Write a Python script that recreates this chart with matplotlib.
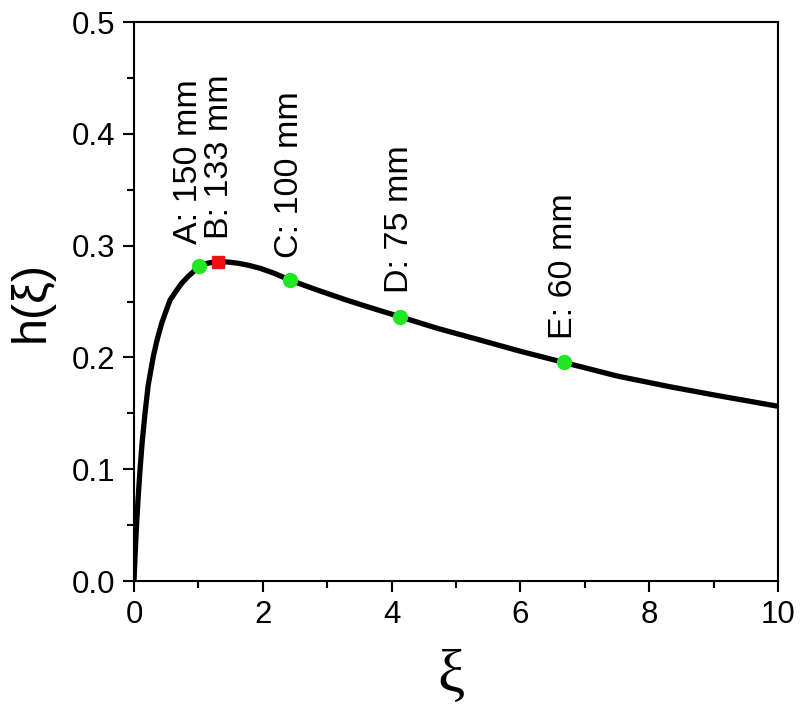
import numpy as np
import matplotlib
matplotlib.use('Agg')
import matplotlib.pyplot as plt
from matplotlib.ticker import MultipleLocator

# curve h(xi), values
xi_curve = [0.0, 0.016, 0.041, 0.065, 0.093, 0.125, 0.171, 0.22, 0.30, 0.36, 0.43, 0.50,
            0.56, 0.65, 0.74, 0.85, 0.95, 1.014, 1.10, 1.20, 1.335, 1.47, 1.62, 1.78,
            1.96, 2.18, 2.42, 2.80, 3.30, 3.70, 4.13, 4.70, 5.37, 6.00, 6.67, 7.50,
            8.32, 9.00, 9.98, 10.0]
h_curve = [0.0, 0.022, 0.052, 0.075, 0.099, 0.123, 0.150, 0.175, 0.201, 0.216, 0.2305, 0.242,
           0.2513, 0.259, 0.2663, 0.273, 0.278, 0.2818, 0.2836, 0.2849, 0.2856, 0.2853, 0.2842, 0.2824,
           0.2797, 0.2752, 0.2692, 0.2612, 0.2513, 0.2440, 0.2364, 0.2262, 0.2156, 0.2055, 0.1956, 0.1834,
           0.1738, 0.1665, 0.1565, 0.1563]

# marked points
point_names = ['A: 150 mm', 'B: 133 mm', 'C: 100 mm', 'D: 75 mm', 'E: 60 mm']
point_xi = [1.014, 1.309, 2.42, 4.13, 6.67]
point_h = [0.2818, 0.2852, 0.2692, 0.2364, 0.1956]

green = '#22e622'
red = '#ee1111'

plt.rcParams['font.family'] = ['Liberation Sans', 'DejaVu Sans']

fig = plt.figure(figsize=(8, 7.04), dpi=100)
ax = fig.add_axes([0.1675, 0.1747, 0.805, 0.794])

ax.plot(xi_curve, h_curve, color='black', lw=3.8, solid_joinstyle='round', solid_capstyle='butt', zorder=2)

for i, name in enumerate(point_names):
    if i == 1:
        ax.plot(point_xi[i], point_h[i], 's', color=red, markersize=9, zorder=3)
    else:
        ax.plot(point_xi[i], point_h[i], 'o', color=green, markersize=10, zorder=3)

# label offsets (points) so A and B don't overlap
offsets = [(-8, 16), (1, 17), (0, 16), (0, 17), (0, 17)]
for i, name in enumerate(point_names):
    ax.annotate(name, (point_xi[i], point_h[i]), xytext=offsets[i], textcoords='offset points',
                rotation=90, ha='center', va='bottom', fontsize=24.5)

ax.set_xlim(0, 10)
ax.set_ylim(0, 0.5)
ax.xaxis.set_major_locator(MultipleLocator(2))
ax.xaxis.set_minor_locator(MultipleLocator(1))
ax.yaxis.set_major_locator(MultipleLocator(0.1))
ax.yaxis.set_minor_locator(MultipleLocator(0.05))
ax.set_yticks([0, 0.1, 0.2, 0.3, 0.4, 0.5])
ax.set_yticklabels(['0.0', '0.1', '0.2', '0.3', '0.4', '0.5'])

ax.tick_params(which='major', direction='out', length=8, width=1.5, labelsize=22.5, pad=5.5)
ax.tick_params(which='minor', direction='out', length=5, width=1.5)
ax.tick_params(top=False, right=False, which='both')
for s in ax.spines.values():
    s.set_linewidth(1.5)

ax.set_xlabel('ξ', fontsize=44, family=['Liberation Serif', 'DejaVu Serif'])
ax.xaxis.set_label_coords(0.492, -0.122)
ax.set_ylabel('h(ξ)', fontsize=35)
ax.yaxis.set_label_coords(-0.125, 0.5)

plt.savefig('out.png', dpi=100)
